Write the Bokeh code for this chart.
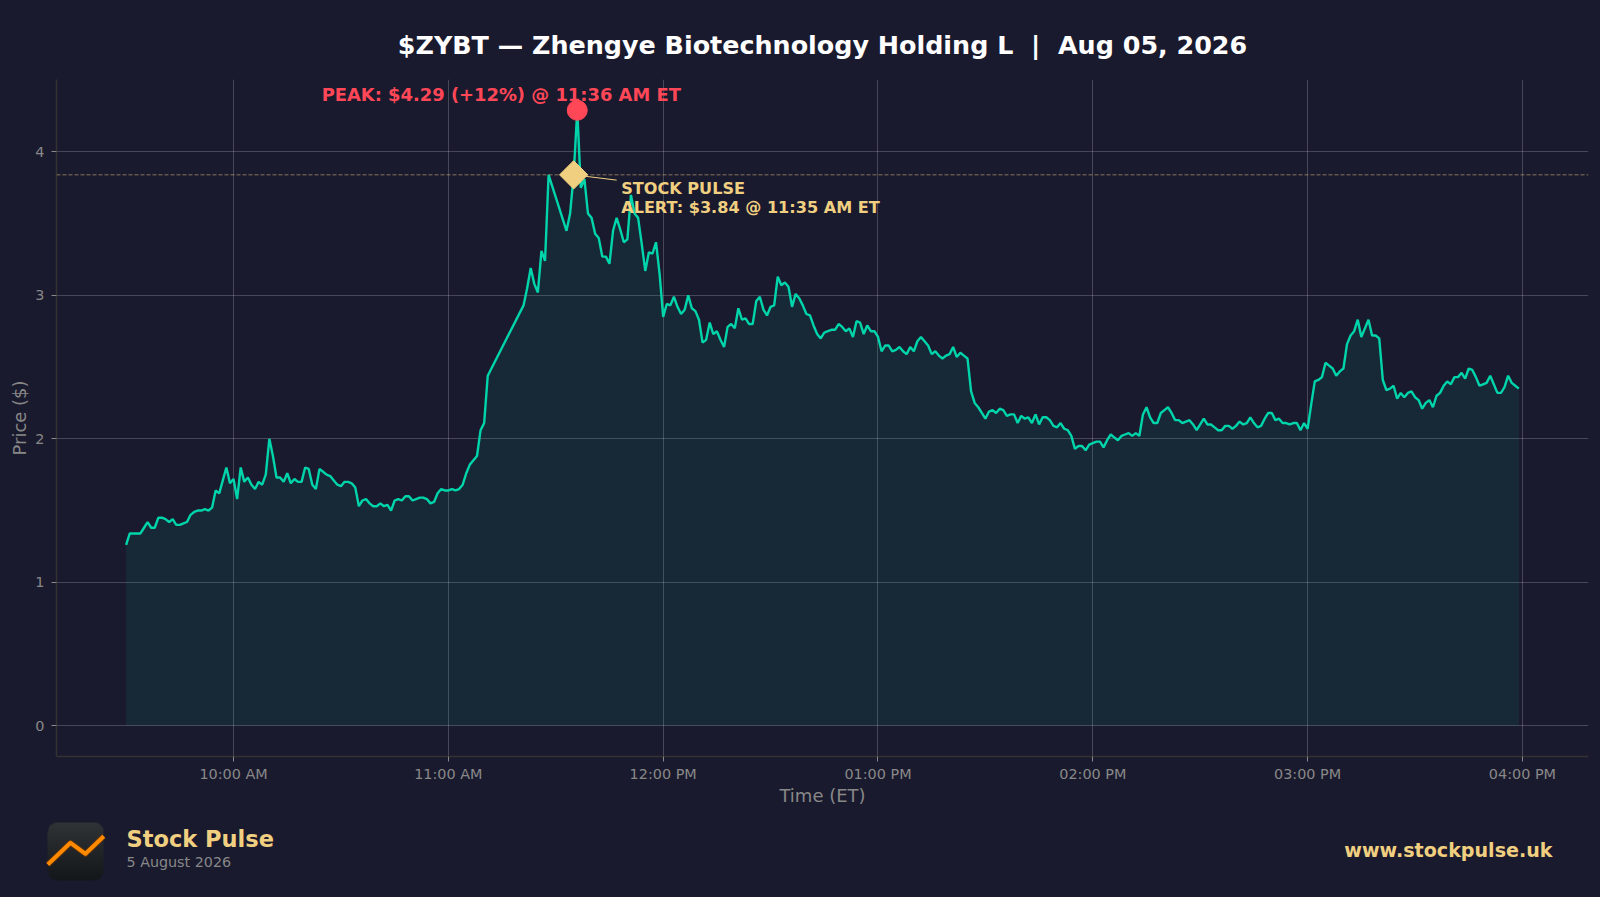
import numpy as np
from bokeh.core.properties import value
from bokeh.embed import file_html
from bokeh.layouts import column
from bokeh.models import FixedTicker, Range1d, Span
from bokeh.plotting import figure
from bokeh.resources import INLINE

# one price a minute, the feed has two holes late in the morning
morning_start = 570  # 9:30
morning_prices = [
    1.26, 1.34, 1.34, 1.34, 1.34, 1.38, 1.42, 1.38, 1.38, 1.45,
    1.45, 1.44, 1.42, 1.44, 1.40, 1.40, 1.41, 1.42, 1.47, 1.49,
    1.50, 1.50, 1.51, 1.50, 1.52, 1.64, 1.62, 1.71, 1.80, 1.69,
    1.72, 1.58, 1.80, 1.70, 1.73, 1.68, 1.65, 1.70, 1.68, 1.75,
    2.00, 1.88, 1.73, 1.73, 1.70, 1.76, 1.69, 1.72, 1.70, 1.70,
    1.80, 1.79, 1.68, 1.65, 1.79, 1.77, 1.75, 1.74, 1.71, 1.68,
    1.67, 1.70, 1.70, 1.69, 1.66, 1.53, 1.57, 1.58, 1.55, 1.53,
    1.53, 1.55, 1.53, 1.54, 1.50, 1.57, 1.58, 1.57, 1.60, 1.60,
    1.57, 1.58, 1.59, 1.59, 1.58, 1.55, 1.56, 1.62, 1.65, 1.64,
    1.64, 1.65, 1.64, 1.65, 1.68, 1.76, 1.82, 1.85, 1.88, 2.06, 2.11, 2.44,
]
midday_start = 681  # 11:21
midday_prices = [2.93, 3.05, 3.19, 3.08, 3.02, 3.31, 3.24, 3.84]
afternoon_start = 693  # 11:33
afternoon_prices = [
    3.45, 3.57, 3.84, 4.29, 3.75, 3.81, 3.57, 3.54, 3.43, 3.40,
    3.27, 3.27, 3.22, 3.45, 3.54, 3.46, 3.37, 3.39, 3.70, 3.57,
    3.54, 3.36, 3.17, 3.30, 3.29, 3.37, 3.15, 2.85, 2.94, 2.93,
    2.99, 2.92, 2.87, 2.90, 3.00, 2.91, 2.89, 2.83, 2.67, 2.69,
    2.81, 2.73, 2.75, 2.69, 2.64, 2.78, 2.80, 2.77, 2.91, 2.83,
    2.84, 2.80, 2.80, 2.96, 2.99, 2.90, 2.86, 2.92, 2.93, 3.13,
    3.07, 3.09, 3.06, 2.92, 3.01, 2.98, 2.93, 2.87, 2.86, 2.79,
    2.73, 2.70, 2.74, 2.75, 2.76, 2.76, 2.80, 2.78, 2.75, 2.77,
    2.71, 2.82, 2.81, 2.73, 2.79, 2.75, 2.75, 2.71, 2.61, 2.65,
    2.65, 2.61, 2.62, 2.64, 2.61, 2.59, 2.64, 2.61, 2.68, 2.71,
    2.68, 2.65, 2.59, 2.61, 2.58, 2.56, 2.58, 2.59, 2.64, 2.57,
    2.60, 2.58, 2.56, 2.33, 2.25, 2.22, 2.18, 2.14, 2.19, 2.20,
    2.18, 2.21, 2.20, 2.16, 2.17, 2.17, 2.11, 2.16, 2.14, 2.15,
    2.11, 2.17, 2.10, 2.15, 2.15, 2.13, 2.09, 2.08, 2.11, 2.07,
    2.06, 2.02, 1.93, 1.95, 1.95, 1.92, 1.96, 1.97, 1.98, 1.98,
    1.94, 1.99, 2.03, 2.01, 1.99, 2.02, 2.03, 2.04, 2.02, 2.04,
    2.02, 2.17, 2.22, 2.15, 2.11, 2.11, 2.18, 2.20, 2.22, 2.18,
    2.13, 2.13, 2.11, 2.12, 2.13, 2.10, 2.06, 2.10, 2.14, 2.10,
    2.10, 2.08, 2.06, 2.06, 2.09, 2.09, 2.07, 2.09, 2.12, 2.10,
    2.11, 2.15, 2.11, 2.08, 2.09, 2.14, 2.18, 2.18, 2.13, 2.14,
    2.11, 2.11, 2.10, 2.11, 2.11, 2.06, 2.11, 2.07, 2.24, 2.40,
    2.41, 2.43, 2.53, 2.51, 2.49, 2.44, 2.47, 2.49, 2.66, 2.72,
    2.75, 2.83, 2.71, 2.77, 2.83, 2.72, 2.72, 2.70, 2.41, 2.34,
    2.35, 2.37, 2.28, 2.32, 2.29, 2.32, 2.33, 2.29, 2.27, 2.21,
    2.25, 2.27, 2.22, 2.30, 2.32, 2.37, 2.40, 2.38, 2.43, 2.43,
    2.46, 2.42, 2.49, 2.48, 2.43, 2.37, 2.38, 2.39, 2.44, 2.38,
    2.32, 2.32, 2.36, 2.44, 2.39, 2.37, 2.35,
]

time_ticks = [600, 660, 720, 780, 840, 900, 960]
time_labels = ["10:00 AM", "11:00 AM", "12:00 PM", "01:00 PM", "02:00 PM", "03:00 PM", "04:00 PM"]
price_ticks = [0, 1, 2, 3, 4]

peak_time, peak_price = 696, 4.29
alert_time, alert_price = 695, 3.84

BG = "#1a1a2e"
TEAL = "#00d4aa"
GOLD = "#f0d080"
RED = "#ff4757"
GREY = "#888888"
FONT = "DejaVu Sans"

minutes = (
    [morning_start + i for i in range(len(morning_prices))]
    + [midday_start + i for i in range(len(midday_prices))]
    + [afternoon_start + i for i in range(len(afternoon_prices))]
)
prices = morning_prices + midday_prices + afternoon_prices

p = figure(
    width=1600, height=815, frame_width=1532, frame_height=677, frame_align=False,
    min_border_left=56, min_border_right=12, min_border_top=79, min_border_bottom=59,
    x_range=Range1d(550.55, 978.45), y_range=Range1d(-0.2145, 4.5045),
    output_backend="svg", toolbar_location=None,
    background_fill_color=BG, border_fill_color=BG, outline_line_color=None,
    # nbsp, svg text collapses plain double spaces
    title="$ZYBT \u2014 Zhengye Biotechnology Holding L\u00a0\u00a0|\u00a0\u00a0Aug 05, 2026",
)
p.title.align = "center"
p.title.text_color = "#ffffff"
p.title.text_font = FONT
p.title.text_font_style = "bold"
p.title.text_font_size = "25.4px"
p.title.standoff = 39

for g in (p.xgrid, p.ygrid):
    g.grid_line_color = "#ffffff"
    g.grid_line_alpha = 0.2
    g.grid_line_width = 1

p.xaxis.ticker = FixedTicker(ticks=time_ticks)
p.xaxis.major_label_overrides = dict(zip(time_ticks, time_labels))
p.yaxis.ticker = FixedTicker(ticks=price_ticks)
p.xaxis.axis_label = "Time (ET)"
p.yaxis.axis_label = "Price ($)"
p.xaxis.major_label_standoff = 4
p.yaxis.major_label_standoff = 7
p.xaxis.axis_label_standoff = 0
p.yaxis.axis_label_standoff = 2
for ax in (p.xaxis, p.yaxis):
    ax.axis_line_color = "#333333"
    ax.axis_line_width = 1.5
    ax.major_tick_line_color = GREY
    ax.major_tick_in = 0
    ax.major_tick_out = 5
    ax.minor_tick_line_color = None
    ax.major_label_text_color = GREY
    ax.major_label_text_font = FONT
    ax.major_label_text_font_size = "14.4px"
    ax.axis_label_text_color = GREY
    ax.axis_label_text_font = FONT
    ax.axis_label_text_font_style = "normal"
    ax.axis_label_text_font_size = "18px"

p.add_layout(Span(location=alert_price, dimension="width", line_color=GOLD, line_alpha=0.5,
                  line_width=1, line_dash="4 2"))

p.varea(x=minutes, y1=np.zeros(len(prices)), y2=prices, fill_color=TEAL, fill_alpha=0.08)
p.line(minutes, prices, line_color=TEAL, line_width=2.4)

# peak note goes under the marker, like the original
p.text([peak_time], [peak_price], text=["PEAK: $4.29 (+12%) @ 11:36 AM ET"], x_offset=-76, y_offset=-15.5,
       text_color=RED, text_font=value(FONT), text_font_style="bold", text_font_size="17.9px",
       text_align="center", text_baseline="middle")
p.scatter([peak_time], [peak_price], marker="circle", size=20, fill_color=RED, line_color=RED)

p.line([alert_time, alert_time + 12], [alert_price, alert_price - 0.037], line_color=GOLD, line_width=1)
p.scatter([alert_time], [alert_price], marker="square", size=20, angle=np.pi / 4,
          fill_color=GOLD, line_color=GOLD)
p.text([alert_time], [alert_price], text=["STOCK PULSE"], x_offset=47.5, y_offset=13.5,
       text_color=GOLD, text_font=value(FONT), text_font_style="bold", text_font_size="16.1px",
       text_align="left", text_baseline="middle")
p.text([alert_time], [alert_price], text=["ALERT: $3.84 @ 11:35 AM ET"], x_offset=47.5, y_offset=33,
       text_color=GOLD, text_font=value(FONT), text_font_style="bold", text_font_size="16.1px",
       text_align="left", text_baseline="middle")

# footer strip, x is page pixels and y is pixels up from the page bottom
FOOT_H = 82
foot = figure(
    width=1600, height=FOOT_H, frame_width=1600, frame_height=FOOT_H, frame_align=False,
    x_range=Range1d(0, 1600), y_range=Range1d(0, FOOT_H),
    x_axis_location=None, y_axis_location=None,
    min_border=0, output_backend="svg", toolbar_location=None,
    background_fill_color=BG, border_fill_color=BG, outline_line_color=None,
)
foot.grid.visible = False

# logo tile: vertical gradient with round corners
tile_h, tile_w, radius = 116, 112, 18
yy, xx = np.mgrid[0:tile_h, 0:tile_w]
dx = np.maximum(np.maximum(radius - xx, xx - (tile_w - 1 - radius)), 0)
dy = np.maximum(np.maximum(radius - yy, yy - (tile_h - 1 - radius)), 0)
mask = dx ** 2 + dy ** 2 <= radius ** 2
shade = yy / (tile_h - 1)
rgba = np.zeros((tile_h, tile_w, 4), dtype=np.uint8)
rgba[..., 0] = (20 + 28 * shade).astype(np.uint8)
rgba[..., 1] = (23 + 29 * shade).astype(np.uint8)
rgba[..., 2] = (26 + 28 * shade).astype(np.uint8)
rgba[..., 3] = mask * 255
foot.image_rgba(image=[rgba.view(np.uint32).reshape(tile_h, tile_w)], x=47, y=17, dw=56, dh=58)

logo_x = [47.3, 70, 85, 103.3]
logo_y = [33, 54.7, 43.7, 61.3]
foot.line(logo_x, logo_y, line_color="#7a3800", line_width=6, line_alpha=0.6, line_join="round")
foot.line(logo_x, logo_y, line_color="#ff8a00", line_width=4, line_join="round")

foot.text([126], [59], text=["Stock Pulse"], text_color=GOLD, text_font=value(FONT),
          text_font_style="bold", text_font_size="22.5px", text_align="left", text_baseline="middle")
foot.text([126], [35.5], text=["5 August 2026"], text_color=GREY, text_font=value(FONT),
          text_font_size="14.3px", text_align="left", text_baseline="middle")
foot.text([1552], [47], text=["www.stockpulse.uk"], text_color=GOLD, text_font=value(FONT),
          text_font_style="bold", text_font_size="19.1px", text_align="right", text_baseline="middle")

layout = column(p, foot, spacing=0)
page = file_html(layout, INLINE).replace("<head>", "<head><style>html,body{background:#1a1a2e;}</style>", 1)
open("out.html", "w").write(page)
